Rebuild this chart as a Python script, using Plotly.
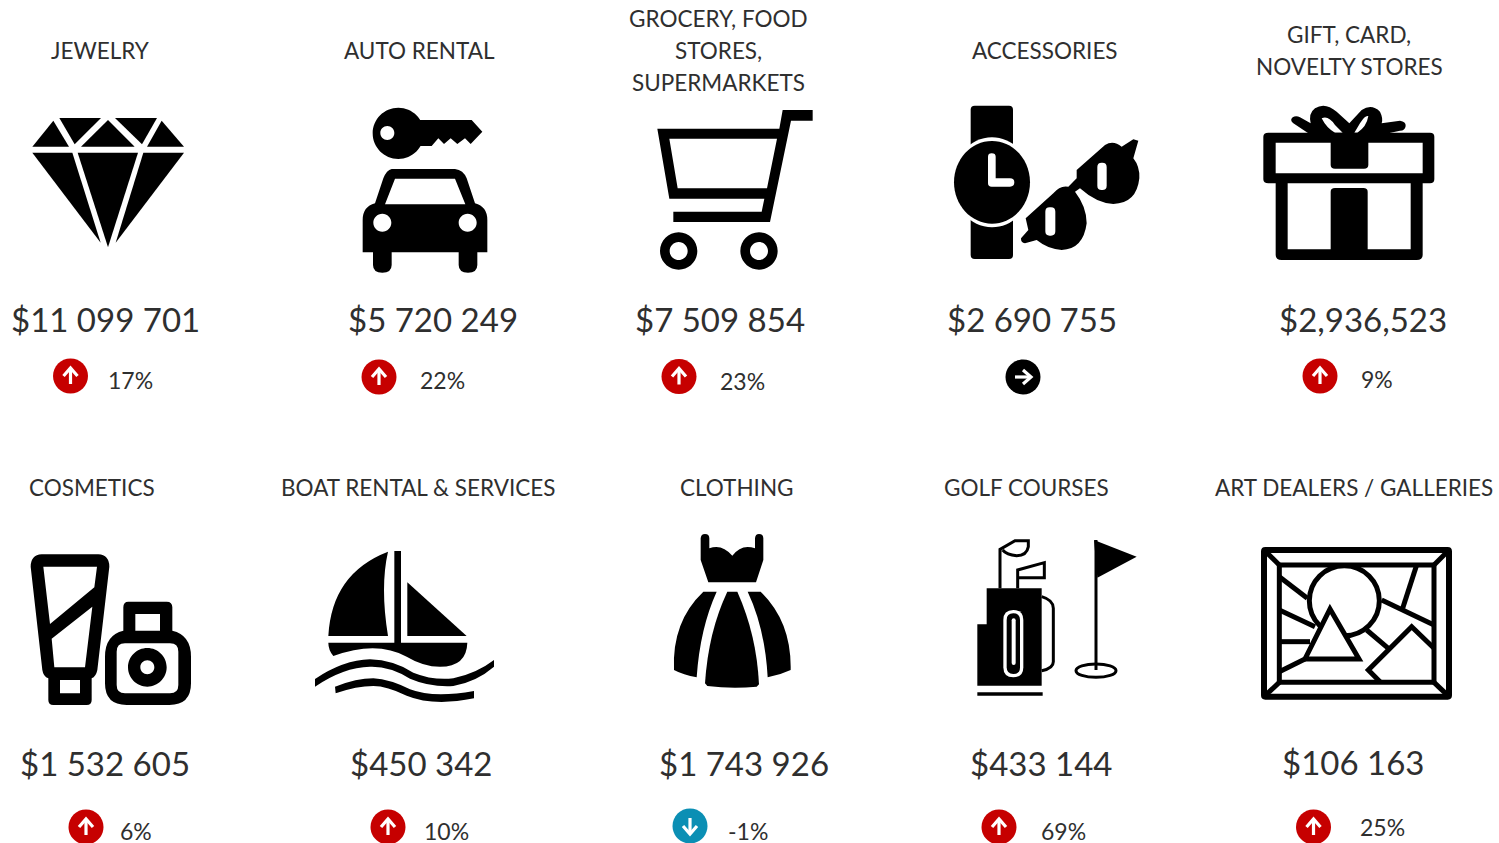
import re
import plotly.graph_objects as go

# ---------- data ----------
categories = ["JEWELRY", "AUTO RENTAL", "GROCERY, FOOD<br>STORES,<br>SUPERMARKETS", "ACCESSORIES",
              "GIFT, CARD,<br>NOVELTY STORES", "COSMETICS", "BOAT RENTAL &amp; SERVICES", "CLOTHING",
              "GOLF COURSES", "ART DEALERS / GALLERIES"]
value_labels = ["$11 099 701", "$5 720 249", "$7 509 854", "$2 690 755", "$2,936,523",
                "$1 532 605", "$450 342", "$1 743 926", "$433 144", "$106 163"]
changes = [17, 22, 23, None, 9, 6, 10, -1, 69, 25]

# ---------- placement (page layout, not data) ----------
title_x = [100, 419, 718, 1045, 1349, 92, 418, 737, 1026, 1354]
title_y = [50.5, 50.5, 50.5, 50.5, 50.5, 487.5, 487.5, 487.5, 487.5, 487.5]
value_x = [105, 433, 720, 1032, 1363, 105, 421, 744, 1041, 1353]
value_y = [318.5, 318.5, 318.5, 318.5, 318.5, 762.5, 762.5, 762.5, 762.5, 761.5]
pct_x = [130, 442, 742, None, 1377, 136, 446, 748, 1063, 1382]
pct_y = [380, 380, 381, None, 379, 831, 831, 831, 831, 827]
badge_x = [70.5, 379, 679, 1023, 1320, 86, 388, 690, 999, 1313.5]
badge_y = [376, 377, 376.5, 377, 376, 827, 827, 826, 827, 827]

TEXT = "#2f2f2f"
FONT = "Lato"
RED, BLUE, BLACK = "#C60000", "#0B8FB4", "#000000"

shapes = []


def tx(path, ox, oy, s=1 / 3):
    out, is_x = [], True
    for tok in re.findall(r"[MLQCZ]|-?\d+\.?\d*", path):
        if tok.isalpha():
            out.append(tok)
            is_x = True
        else:
            v = float(tok)
            out.append(f"{(ox + v * s) if is_x else (oy + v * s):.2f}")
            is_x = not is_x
    return " ".join(out)


def circ(cx, cy, rx, ry=None):
    ry = rx if ry is None else ry
    k = 0.5523
    return (f"M{cx - rx},{cy} C{cx - rx},{cy - k * ry} {cx - k * rx},{cy - ry} {cx},{cy - ry} "
            f"C{cx + k * rx},{cy - ry} {cx + rx},{cy - k * ry} {cx + rx},{cy} "
            f"C{cx + rx},{cy + k * ry} {cx + k * rx},{cy + ry} {cx},{cy + ry} "
            f"C{cx - k * rx},{cy + ry} {cx - rx},{cy + k * ry} {cx - rx},{cy} Z ")


def rrect(x0, y0, x1, y1, r):
    return (f"M{x0 + r},{y0} L{x1 - r},{y0} Q{x1},{y0} {x1},{y0 + r} L{x1},{y1 - r} Q{x1},{y1} {x1 - r},{y1} "
            f"L{x0 + r},{y1} Q{x0},{y1} {x0},{y1 - r} L{x0},{y0 + r} Q{x0},{y0} {x0 + r},{y0} Z ")


def fill(path, o, color=BLACK):
    shapes.append(dict(type="path", xref="x", yref="y", path=tx(path, *o), fillcolor=color,
                       line=dict(width=0), layer="above"))


def stroke(path, o, w, color=BLACK, fc="rgba(0,0,0,0)"):
    shapes.append(dict(type="path", xref="x", yref="y", path=tx(path, *o), fillcolor=fc,
                       line=dict(color=color, width=w), layer="above"))


# --- diamond & key/car
o = (0, 90)
for p in ["M160,92 L207,170 L97,170 Z", "M178,84 L303,84 L224,163 Z", "M324,90 L404,170 L243,170 Z",
          "M345,84 L471,84 L426,163 Z", "M485,92 L552,170 L441,170 Z", "M97,188 L217,188 L302,458 Z",
          "M233,188 L414,188 L324,472 Z", "M430,188 L552,188 L347,458 Z"]:
    fill(p, o)
fill(circ(1195, 130, 77) + circ(1162, 129, 21), o)
fill("M1250,90 L1415,90 L1447,125 L1412,162 L1395,145 L1372,162 L1352,145 L1332,162 L1315,145 L1295,168 L1250,168 Z", o)
fill("M1175,237 L1365,237 Q1390,240 1400,265 L1425,340 Q1462,350 1462,390 L1462,487 L1432,487 L1432,525 "
     "Q1432,548 1404,548 Q1376,548 1376,525 L1376,487 L1175,487 L1175,525 Q1175,548 1147,548 Q1119,548 1119,525 "
     "L1119,487 L1088,487 L1088,390 Q1088,350 1125,340 L1150,265 Q1160,240 1175,237 Z "
     "M1185,266 L1365,266 L1396,343 L1155,343 Z " + circ(1147, 398, 27) + circ(1403, 398, 27), o)

# --- cart, watch, sunglasses
o = (640, 90)
fill("M428,60 L518,60 L518,92 L453,92 L390,396 L100,396 L100,365 L365,365 L373,326 L88,326 L52,116 L418,116 Z "
     "M88,146 L411,146 L381,295 L113,295 Z", o)
fill(circ(116, 483, 56) + circ(116, 483, 27), o)
fill(circ(357, 483, 56) + circ(357, 483, 27), o)
fill(rrect(992, 47, 1119, 200, 12), o)
fill(rrect(992, 350, 1119, 507, 12), o)
fill(circ(1056, 277, 120, 135), o, "#ffffff")
fill(circ(1056, 277, 114, 124), o)
fill("M1044,200 Q1044,190 1055,190 Q1067,190 1067,200 L1067,265 L1110,265 Q1123,265 1123,277 Q1123,290 1110,290 "
     "L1055,290 Q1044,290 1044,280 Z", o, "#ffffff")
fill("M1143,445 L1165,420 L1157,385 L1240,310 Q1260,285 1285,290 L1310,265 L1310,240 L1395,165 Q1420,150 1445,170 "
     "L1480,148 L1495,152 L1480,205 Q1500,230 1498,265 Q1490,340 1420,342 Q1370,340 1320,295 L1305,305 "
     "Q1340,350 1340,400 Q1330,478 1265,480 Q1225,478 1190,450 L1155,460 Q1142,458 1143,445 Z "
     + rrect(1372, 218, 1400, 300, 13) + rrect(1216, 352, 1246, 437, 13), o)

# --- gift
o = (1240, 90)
fill("M85,128 L570,128 Q583,128 583,140 L583,268 Q583,280 570,280 L548,280 L548,495 Q548,510 530,510 L125,510 "
     "Q107,510 107,495 L107,280 L85,280 Q70,280 70,268 L70,140 Q70,128 85,128 Z "
     "M107,158 L272,158 L272,225 Q272,236 285,236 L372,236 Q385,236 385,225 L385,158 L548,158 L548,250 L107,250 Z "
     "M143,280 L512,280 L512,478 L383,478 L383,305 Q383,294 370,294 L285,294 Q272,294 272,305 L272,478 L143,478 Z", o)
fill("M205,130 L160,100 Q148,90 158,82 Q168,75 180,82 L212,100 Q205,70 225,55 Q255,35 290,65 L328,100 L365,60 "
     "Q395,40 420,65 Q430,85 425,100 L480,92 Q498,95 497,108 Q495,122 480,122 L445,130 Z "
     "M245,85 Q265,75 285,105 L308,128 L285,128 Q260,115 245,85 Z "
     "M385,78 Q375,75 360,100 L343,128 L352,128 Q380,110 385,78 Z", o)

# --- cosmetics & boat
o = (10, 530)
fill("M95,73 L265,73 Q298,75 298,110 L262,420 Q258,440 245,445 L245,510 Q245,525 230,525 L130,525 Q115,525 115,510 "
     "L115,445 Q100,440 97,420 L62,110 Q62,75 95,73 Z "
     "M100,110 L261,110 L253,172 L120,282 Z M247,230 L225,412 L133,412 L125,326 Z "
     "M150,450 L210,450 L210,490 L150,490 Z", o)
fill("M355,215 L470,215 Q487,215 487,232 L487,302 Q543,315 543,380 L543,460 Q543,525 478,525 L350,525 Q285,525 285,460 "
     "L285,380 Q285,315 340,302 L340,232 Q340,215 355,215 Z M376,252 L450,252 L450,302 L376,302 Z "
     + rrect(320, 340, 505, 490, 25), o)
fill(circ(412, 412, 58) + circ(412, 412, 21), o)
fill("M1134,65 Q1110,170 1134,318 L955,318 Q965,130 1134,65 Z", o)
fill("M1153,63 L1173,63 L1173,340 L1153,340 Z", o)
fill("M1192,157 L1370,318 L1192,318 Z", o)
fill("M955,338 L1372,338 Q1370,410 1290,410 Q1240,410 1190,380 Q1100,330 970,378 Q955,360 955,338 Z", o)
fill("M915,447 Q1000,390 1080,388 Q1150,390 1210,428 Q1270,452 1330,445 Q1400,430 1452,390 L1452,410 "
     "Q1400,455 1330,468 Q1260,472 1200,446 Q1140,408 1080,410 Q1000,412 915,470 Z", o)
fill("M975,470 Q1040,445 1090,445 Q1140,448 1200,478 Q1270,505 1392,483 L1392,505 Q1270,530 1190,497 "
     "Q1130,468 1090,468 Q1040,468 977,490 Z", o)

# --- dress & golf
o = (650, 525)
fill("M152,40 Q153,27 165,27 Q178,27 178,40 L178,70 Q215,55 247,92 Q275,55 315,70 L315,40 Q316,27 327,27 Q340,27 340,40 "
     "L340,105 L318,172 L175,172 L152,105 Z", o)
fill("M160,200 L200,200 Q150,310 140,457 Q100,450 72,435 Q65,290 160,200 Z", o)
fill("M232,200 L262,200 Q320,330 327,478 L320,485 Q245,492 172,483 L165,475 Q175,320 232,200 Z", o)
fill("M293,200 L332,200 Q425,290 422,435 Q390,450 353,457 Q345,310 293,200 Z", o)
fill("M1010,190 L1175,190 L1175,482 L982,482 L982,298 L1010,298 Z", o)
fill(rrect(1060, 255, 1120, 457, 30), o, "#ffffff")
fill(rrect(1070, 265, 1110, 447, 20), o)
fill(rrect(1085, 280, 1097, 420, 6), o, "#ffffff")
stroke("M1175,215 Q1210,225 1210,250 L1210,410 Q1210,430 1175,437", o, 3)
stroke("M982,507 L1178,507", o, 3.5)
stroke("M1050,190 L1050,73 L1095,47 L1135,47 L1135,65 Q1130,92 1100,92 Q1070,90 1058,75", o, 3)
stroke("M1103,190 L1103,135 L1183,113 L1183,158 L1103,158", o, 3)
stroke("M1338,45 L1338,435", o, 3)
fill("M1332,45 L1460,95 L1342,158 Z", o)
stroke(circ(1338, 437, 60, 20), o, 3)

# --- art
o = (1250, 535)
stroke(rrect(42, 45, 597, 485, 4), o, 6)
stroke("M88,90 L552,90 L552,442 L88,442 Z", o, 5)
for p in ["M42,45 L88,90", "M597,45 L552,90", "M42,485 L88,442", "M597,485 L552,442", "M88,125 L172,190",
          "M88,225 L195,275", "M88,320 L180,320", "M88,410 L165,372", "M395,195 L552,270", "M500,90 L458,220",
          "M350,285 L415,340"]:
    stroke(p, o, 5)
stroke(circ(283, 197, 105), o, 5, fc="#ffffff")
stroke("M240,222 L327,372 L165,372 Z", o, 5, fc="#ffffff")
stroke("M390,440 L355,405 L485,275 L552,340", o, 5)

# ---------- badges and labels ----------
annotations = []
for i, c in enumerate(changes):
    bx, by = badge_x[i], badge_y[i]
    color = BLACK if c is None else (BLUE if c < 0 else RED)
    shapes.append(dict(type="path", xref="x", yref="y", path=circ(bx, by, 17.5), fillcolor=color,
                       line=dict(width=0), layer="above"))
    if c is None:
        arrow = [f"M{bx - 8},{by} L{bx + 7},{by}", f"M{bx},{by - 7} L{bx + 8},{by} L{bx},{by + 7}"]
    elif c < 0:
        arrow = [f"M{bx},{by - 8} L{bx},{by + 7}", f"M{bx - 7},{by} L{bx},{by + 8} L{bx + 7},{by}"]
    else:
        arrow = [f"M{bx},{by + 8} L{bx},{by - 7}", f"M{bx - 7},{by} L{bx},{by - 8} L{bx + 7},{by}"]
    for a in arrow:
        shapes.append(dict(type="path", xref="x", yref="y", path=a, fillcolor="rgba(0,0,0,0)",
                           line=dict(color="#ffffff", width=3.2), layer="above"))
    if c is not None:
        annotations.append(dict(x=pct_x[i], y=pct_y[i], text=f"{c}%", font=dict(size=23, color=TEXT, family=FONT)))
    lines = categories[i].split("<br>")
    for j, line in enumerate(lines):
        annotations.append(dict(x=title_x[i], y=title_y[i] + (j - (len(lines) - 1) / 2) * 32, text=line,
                                font=dict(size=22.5, color=TEXT, family=FONT)))
    annotations.append(dict(x=value_x[i], y=value_y[i], text=value_labels[i],
                            font=dict(size=33, color=TEXT, family=FONT)))
for a in annotations:
    a.update(xref="x", yref="y", showarrow=False, xanchor="center", yanchor="middle", align="center")

fig = go.Figure()
fig.update_layout(width=1499, height=843, margin=dict(l=0, r=0, t=0, b=0), paper_bgcolor="#ffffff",
                  plot_bgcolor="#ffffff", showlegend=False, shapes=shapes, annotations=annotations,
                  xaxis=dict(range=[0, 1499], visible=False, fixedrange=True),
                  yaxis=dict(range=[843, 0], visible=False, fixedrange=True))
fig.write_html("out.html", config=dict(displayModeBar=False),
               post_script="document.body.style.margin='0';document.body.style.overflow='hidden';")
